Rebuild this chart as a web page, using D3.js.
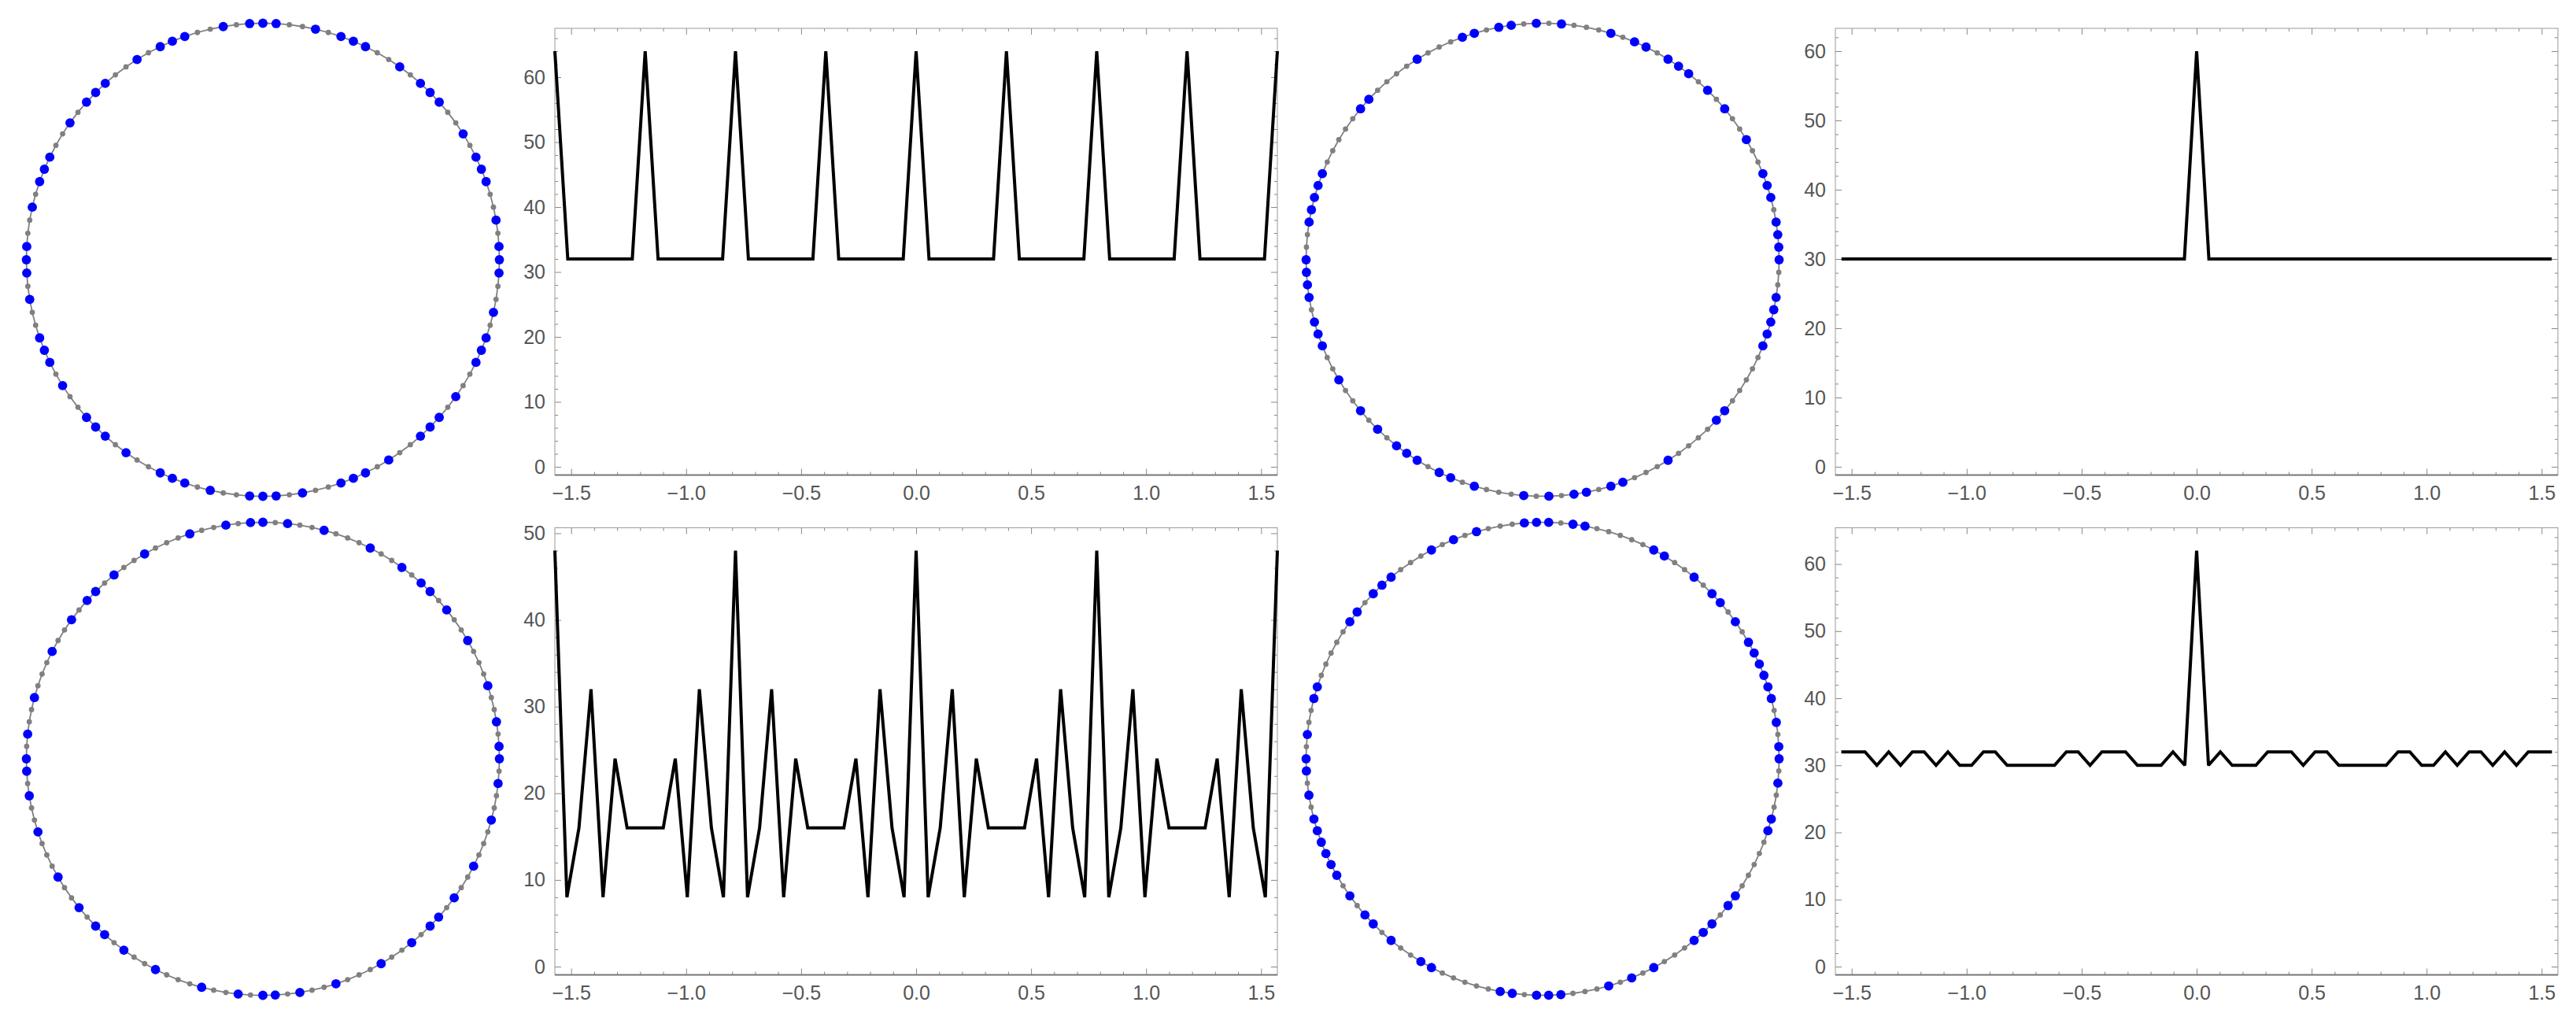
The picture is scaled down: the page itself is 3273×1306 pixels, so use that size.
<!DOCTYPE html>
<html><head><meta charset="utf-8">
<script src="https://cdn.jsdelivr.net/npm/d3@7"></script>
<style>
body{margin:0;background:#fff}
svg{display:block}
text{font-family:"Liberation Sans",Arial,sans-serif}
</style>
</head><body>
<svg id="chart" width="3273" height="1306"></svg>
<script>
// ---------- DATA ----------
// circle sizes (number of points on each circle)
const tlN = 112, trN = 118, blN = 120, brN = 122;
// indices (counter-clockwise from 3 o'clock) of the highlighted (blue) points
const tlBlue = [0,1,3,6,7,8,10,13,14,15,17,20,21,22,24,27,28,29,31,34,35,36,38,41,42,43,45,48,49,50,52,55,
  56,57,59,62,63,64,66,69,70,71,73,76,77,78,80,83,84,85,87,90,91,92,94,97,98,99,101,104,105,106,108,111];
const trBlue = [0,1,2,3,5,6,7,10,13,15,17,18,19,21,22,24,28,30,32,33,35,36,40,45,46,52,53,54,55,56,
  59,60,61,62,64,65,66,69,72,74,76,77,78,80,81,83,87,89,91,92,94,95,99,104,105,111,112,113,114,115];
const blBlue = [0,1,3,6,10,13,15,16,18,21,25,28,30,31,33,36,40,43,45,46,48,51,55,58,
  60,61,63,66,70,73,75,76,78,81,85,88,90,91,93,96,100,103,105,106,108,111,115,118];
const brBlue = [0,1,3,5,6,7,8,9,10,12,14,15,17,20,21,27,28,30,31,32,36,38,40,44,45,46,48,49,55,56,59,
  61,62,64,66,67,68,69,70,71,73,75,76,78,81,82,88,89,91,92,93,97,99,101,105,106,107,109,110,116,117,120];
// overlap counts for rotations by k steps (k = -K..K), plotted against angle in radians
const tlValues = [64,32,32,32,32,32,32, 64,32,32,32,32,32,32, 64,32,32,32,32,32,32, 64,32,32,32,32,32,32,
  64,32,32,32,32,32,32, 64,32,32,32,32,32,32, 64,32,32,32,32,32,32, 64,32,32,32,32,32,32, 64];
const trValues = [30,30,30,30,30,30,30,30,30,30,30,30,30,30,30,30,30,30,30,30,30,30,30,30,30,30,30,30,30,
  60,
  30,30,30,30,30,30,30,30,30,30,30,30,30,30,30,30,30,30,30,30,30,30,30,30,30,30,30,30,30];
const blValues = [48,8,16,32,8,24,16,16,16,16,24,8,32,16,8,
  48,8,16,32,8,24,16,16,16,16,24,8,32,16,8,
  48,8,16,32,8,24,16,16,16,16,24,8,32,16,8,
  48,8,16,32,8,24,16,16,16,16,24,8,32,16,8,
  48];
const brValues = [32,32,32,30,32,30,32,32,30,32,30,30,32,32,30,30,30,30,30,32,32,30,32,32,32,30,30,30,32,30,
  62,
  30,32,30,30,30,32,32,32,30,32,32,30,30,30,30,30,32,32,30,30,32,30,32,32,30,32,30,32,32,32];
const xTickValues = [-1.5,-1.0,-0.5,0.0,0.5,1.0,1.5];
const yTicks60 = [0,10,20,30,40,50,60];
const yTicks50 = [0,10,20,30,40,50];

// ---------- LAYOUT ----------
const panels = [
  {N:tlN, blue:tlBlue, values:tlValues, yTicks:yTicks60, cx:334, cy:330, fx0:705, fx1:1623, fy0:36, fy1:603.5},
  {N:trN, blue:trBlue, values:trValues, yTicks:yTicks60, cx:1960, cy:330, fx0:2332, fx1:3250, fy0:36, fy1:603.5},
  {N:blN, blue:blBlue, values:blValues, yTicks:yTicks50, cx:334, cy:964, fx0:705, fx1:1623, fy0:670.5, fy1:1238.5},
  {N:brN, blue:brBlue, values:brValues, yTicks:yTicks60, cx:1960, cy:964, fx0:2332, fx1:3250, fy0:670.5, fy1:1238.5}
];
const R = 300.5;
const svg = d3.select("#chart");
const fmtX = v => (v < 0 ? "\u2212" : "") + Math.abs(v).toFixed(1);

panels.forEach(p => {
  // ----- circle -----
  const g = svg.append("g");
  const sx = d3.scaleLinear().domain([-1,1]).range([p.cx - R, p.cx + R]);
  const sy = d3.scaleLinear().domain([-1,1]).range([p.cy + R, p.cy - R]);
  const pts = d3.range(p.N).map(j => [Math.cos(2*Math.PI*j/p.N), Math.sin(2*Math.PI*j/p.N)]);
  g.append("path")
    .attr("d", d3.line().x(d => sx(d[0])).y(d => sy(d[1])).curve(d3.curveLinearClosed)(pts))
    .attr("fill","none").attr("stroke","#808080").attr("stroke-width",1.8);
  g.selectAll("circle.gr").data(pts).join("circle").attr("class","gr")
    .attr("cx", d => sx(d[0])).attr("cy", d => sy(d[1])).attr("r", 3.4).attr("fill","#808080");
  g.selectAll("circle.bl").data(p.blue).join("circle").attr("class","bl")
    .attr("cx", j => sx(pts[j][0])).attr("cy", j => sy(pts[j][1])).attr("r", 5.9).attr("fill","#0000ff");

  // ----- line plot -----
  const maxV = d3.max(p.values);
  const x = d3.scaleLinear().domain([-Math.PI/2, Math.PI/2]).range([p.fx0, p.fx1]);
  const y = d3.scaleLinear().domain([0, maxV]).range([p.fy1 - 10.5, p.fy0 + 29]);
  const K = (p.values.length - 1) / 2;
  const data = p.values.map((v,i) => [(i - K) * 2*Math.PI/p.N, v]);
  const pg = svg.append("g");

  const styleAxis = (sel, labels) => {
    sel.select(".domain").remove();
    sel.selectAll(".tick line").attr("stroke","#888").attr("stroke-width",1);
    sel.selectAll(".tick text").attr("fill","#555").style("font-size","25px")
       .style("font-family","'Liberation Sans',Arial,sans-serif");
    if (!labels) sel.selectAll(".tick text").remove();
  };
  const minorX = d3.range(-15, 16).map(v => v/10).filter(v => Math.abs(v*2 - Math.round(v*2)) > 1e-6);
  const minorY = d3.range(0, maxV + 6, 2).filter(v => v % 10 !== 0 && y(v) > p.fy0);

  // bottom
  pg.append("g").attr("transform", `translate(0,${p.fy1})`)
    .call(d3.axisBottom(x).tickValues(xTickValues).tickFormat(fmtX).tickSizeInner(-8).tickPadding(14))
    .call(s => styleAxis(s, true));
  pg.append("g").attr("transform", `translate(0,${p.fy1})`)
    .call(d3.axisBottom(x).tickValues(minorX).tickFormat("").tickSizeInner(-4)).call(s => styleAxis(s, false));
  // top
  pg.append("g").attr("transform", `translate(0,${p.fy0})`)
    .call(d3.axisTop(x).tickValues(xTickValues).tickFormat("").tickSizeInner(-8)).call(s => styleAxis(s, false));
  pg.append("g").attr("transform", `translate(0,${p.fy0})`)
    .call(d3.axisTop(x).tickValues(minorX).tickFormat("").tickSizeInner(-4)).call(s => styleAxis(s, false));
  // left
  pg.append("g").attr("transform", `translate(${p.fx0},0)`)
    .call(d3.axisLeft(y).tickValues(p.yTicks).tickFormat(d3.format("d")).tickSizeInner(-8).tickPadding(12))
    .call(s => styleAxis(s, true));
  pg.append("g").attr("transform", `translate(${p.fx0},0)`)
    .call(d3.axisLeft(y).tickValues(minorY).tickFormat("").tickSizeInner(-4)).call(s => styleAxis(s, false));
  // right
  pg.append("g").attr("transform", `translate(${p.fx1},0)`)
    .call(d3.axisRight(y).tickValues(p.yTicks).tickFormat("").tickSizeInner(-8)).call(s => styleAxis(s, false));
  pg.append("g").attr("transform", `translate(${p.fx1},0)`)
    .call(d3.axisRight(y).tickValues(minorY).tickFormat("").tickSizeInner(-4)).call(s => styleAxis(s, false));

  // frame
  pg.append("rect").attr("x", p.fx0).attr("y", p.fy0).attr("width", p.fx1 - p.fx0).attr("height", p.fy1 - p.fy0)
    .attr("fill","none").attr("stroke","#999").attr("stroke-width",1);
  pg.append("line").attr("x1", p.fx0).attr("x2", p.fx1).attr("y1", p.fy1).attr("y2", p.fy1)
    .attr("stroke","#777").attr("stroke-width",2);

  // data line
  pg.append("path").datum(data)
    .attr("d", d3.line().x(d => x(d[0])).y(d => y(d[1])))
    .attr("fill","none").attr("stroke","#000").attr("stroke-width",4).attr("stroke-linejoin","miter").attr("stroke-miterlimit",2);
});
</script>
</body></html>
